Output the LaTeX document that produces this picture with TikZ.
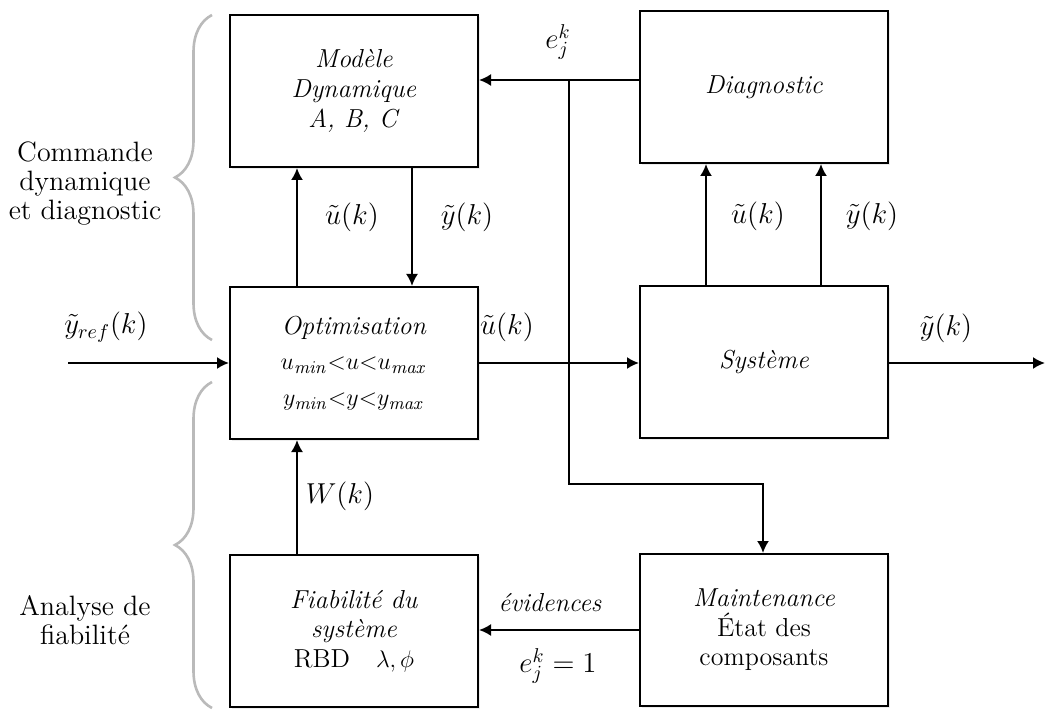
\documentclass[tikz,border=0pt]{standalone}
\usetikzlibrary{arrows.meta,decorations.pathreplacing,shadows,calc}
\begin{document}
\begin{tikzpicture}[x=0.5pt,y=-0.5pt,
  box/.style={draw,line width=1pt,fill=white,minimum width=124pt,minimum height=76pt,
    align=center,font=\fontsize{13}{14.8}\selectfont,
    drop shadow={shadow xshift=1.2pt,shadow yshift=-1.2pt,opacity=0.15}},
  arr/.style={line width=1pt,-{Latex[length=6pt,width=6pt]}},
  lab/.style={font=\fontsize{14.5}{16}\selectfont},
  side/.style={align=center,font=\fontsize{14}{14.5}\selectfont},
  brc/.style={draw=black!27,line width=1.3pt,decorate,decoration={brace,amplitude=18.5pt}}]
\useasboundingbox (0,0) rectangle (1045,711);

% boxes
\node[box] (mod) at (354,91) {\textit{Modèle}\\ \textit{Dynamique}\\ \textit{A, B, C}};
\node[box] (diag) at (764,87) {\textit{Diagnostic}};
\node[box] (opt) at (354,363) {\textit{Optimisation}\\[3pt] $u_{\mathit{min}}{<}u{<}u_{\mathit{max}}$\\[3pt] $y_{\mathit{min}}{<}y{<}y_{\mathit{max}}$};
\node[box] (sys) at (764,362) {\textit{Système}};
\node[box] (fiab) at (354,631) {\textit{Fiabilité du}\\ \textit{système}\\ RBD\quad $\lambda,\phi$};
\node[box] (maint) at (764,630) {\textit{Maintenance}\\ État des\\ composants};

% helper coordinates
\coordinate (xa) at (297,0);
\coordinate (xb) at (412,0);
\coordinate (xc) at (706,0);
\coordinate (xd) at (821,0);
\coordinate (xj) at (569,0);
\coordinate (xm) at (763,0);
\coordinate (yl) at (0,80);
\coordinate (ym) at (0,484);
\coordinate (in) at (68,363);
\coordinate (out) at (1045,363);

% connectors
\draw[arr] (opt.north -| xa) -- (mod.south -| xa);
\draw[arr] (mod.south -| xb) -- (opt.north -| xb);
\draw[arr] (sys.north -| xc) -- (diag.south -| xc);
\draw[arr] (sys.north -| xd) -- (diag.south -| xd);
\draw[arr] (diag.west |- yl) -- (mod.east |- yl);
\draw[arr] (xj |- yl) -- (xj |- ym) -- (xm |- ym) -- (maint.north -| xm);
\draw[arr] (in) -- (opt.west |- in);
\draw[arr] (opt.east |- in) -- (sys.west |- in);
\draw[arr] (sys.east |- out) -- (out);
\draw[arr] (fiab.north -| xa) -- (opt.south -| xa);
\draw[arr] (maint.west) -- (fiab.east |- maint.west);

% labels
\node[lab] (le) at (558,42) {$e_j^k$};
\node[lab] (lu1) at (352,217) {$\tilde u(k)$};
\node[lab] (ly1) at (467,217) {$\tilde y(k)$};
\node[lab] (lu2) at (758,216) {$\tilde u(k)$};
\node[lab] (ly2) at (872,216) {$\tilde y(k)$};
\node[lab] (lu3) at (507,327) {$\tilde u(k)$};
\node[lab] (ly3) at (946,328) {$\tilde y(k)$};
\node[lab] (lref) at (106,327) {$\tilde y_{ref}(k)$};
\node[lab] (lw) at (340,496) {$W(k)$};
\node[font=\fontsize{13}{15}\selectfont\itshape] (lev) at (550,603) {évidences};
\node[lab] (le1) at (558,666) {$e_j^k = 1$};

% side texts and braces
\node[side] (t1) at (85,184) {Commande\\ dynamique\\ et diagnostic};
\node[side] (t2) at (85,620) {Analyse de\\ fiabilité};
\draw[brc] (212,340) -- (212,15);
\draw[brc] (212,708) -- (212,382);
\end{tikzpicture}
\end{document}
